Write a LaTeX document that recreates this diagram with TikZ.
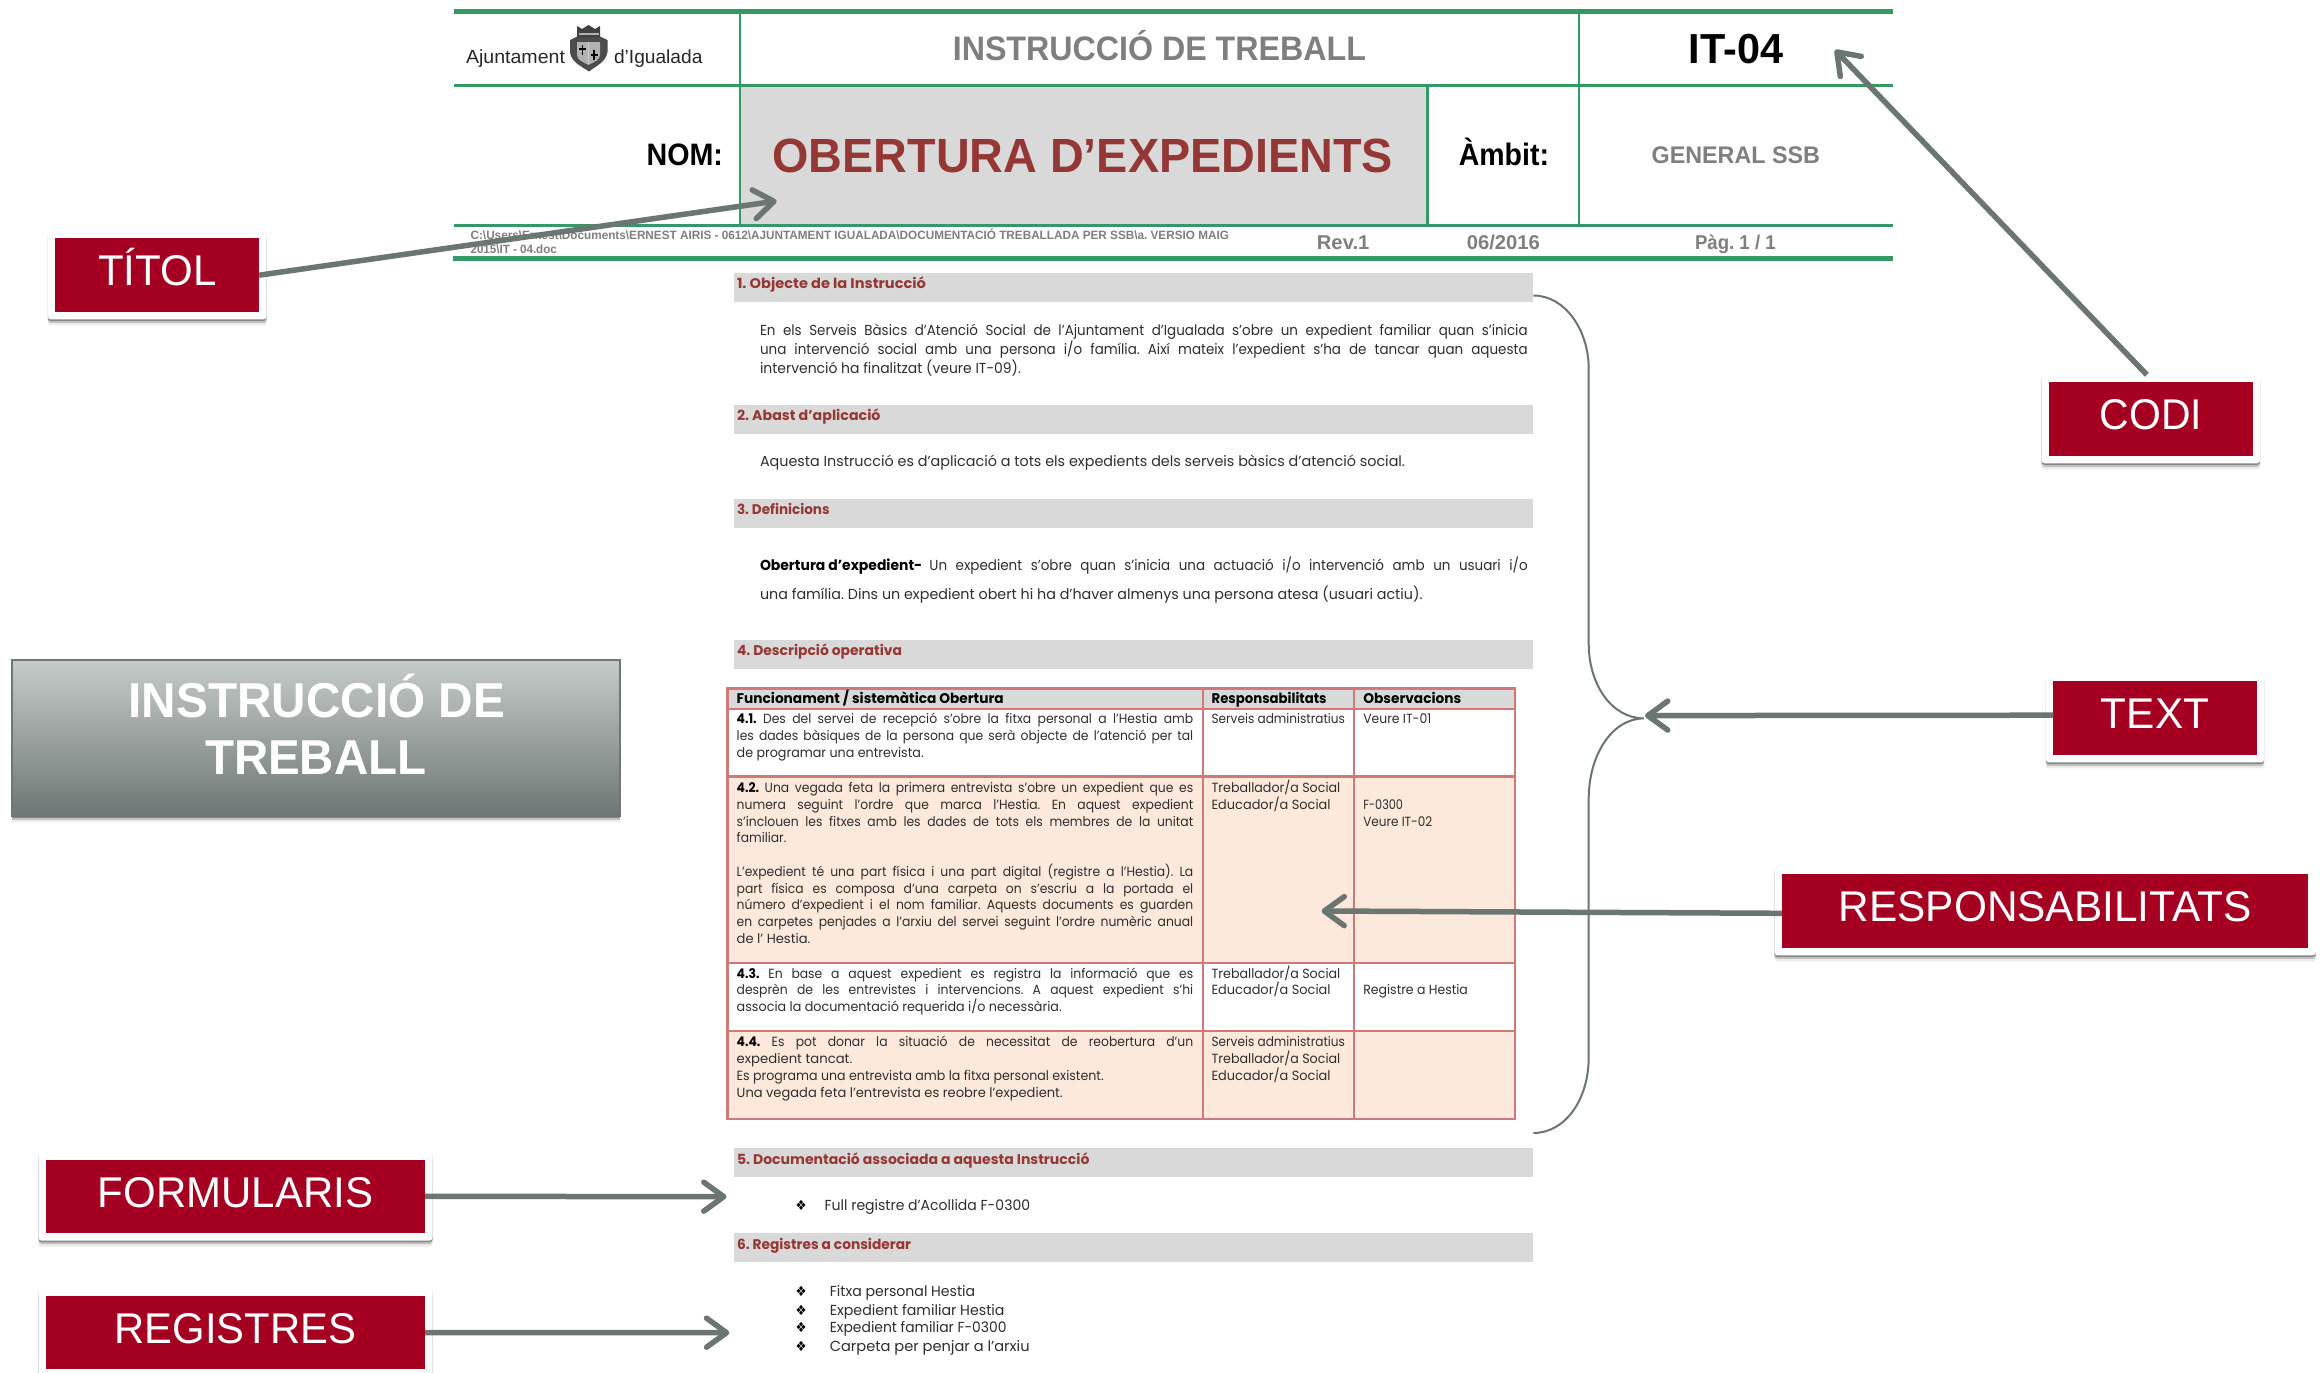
\documentclass[tikz,border=0pt]{standalone}
\usepackage{fontspec}
\usepackage{graphicx}
\usetikzlibrary{arrows.meta,shadows}
\setmainfont{Liberation Sans}
\newfontfamily\gothic{Poppins}
\newfontfamily\symf{DejaVu Sans}
\definecolor{hgreen}{HTML}{339966}
\definecolor{barg}{HTML}{D9D9D9}
\definecolor{sectc}{HTML}{953735}
\definecolor{hgray}{HTML}{7F7F7F}
\definecolor{bodyc}{HTML}{2E2E2E}
\definecolor{tabl}{HTML}{CF7A78}
\definecolor{peach}{HTML}{FCE9DB}
\definecolor{cred}{HTML}{A50021}
\definecolor{connc}{HTML}{6B7571}
\definecolor{mtop}{HTML}{C5CBC8}
\definecolor{mmid}{HTML}{9EA5A3}
\definecolor{mbot}{HTML}{6E7775}
\frenchspacing
\newcommand\fitw[2]{\sbox0{#2}\pgfmathsetmacro\myfs{#1/\the\wd0}\scalebox{\myfs}[1]{\usebox0}}
% justified line: letters condensed to at most 0.93, the rest of the width goes to the word spaces
\newcommand\justw[2]{\sbox0{\spaceskip=.26em\relax #2}\pgfmathsetmacro\myfs{min(0.93,#1/\the\wd0)}\pgfmathsetlengthmacro\myw{#1/\myfs}\scalebox{\myfs}[1]{\hbox to \myw{\spaceskip=.26em plus 1fil\relax #2}}}
\newcounter{tn}
\newcommand\putt[5][]{\stepcounter{tn}\node[tx,#1] (t\arabic{tn}) at (#2,#3) {\fitw{#4}{#5}};}
\newcommand\puttj[5][]{\stepcounter{tn}\node[tx,#1] (t\arabic{tn}) at (#2,#3) {\justw{#4}{#5}};}
\newcommand\callout[6]{% name, cx, cy, W, labelW, label
  \node[outerbox,minimum width=#4+15pt] (#1Outer) at (#2,#3) {};
  \node[redbox,minimum width=#4 pt] (#1) at (#2,#3) {\fitw{#5}{#6}};}
\tikzset{
  x=1pt,y=-1pt,
  tx/.style={anchor=base west,inner sep=0pt,outer sep=0pt},
  hb/.style={font=\bfseries\fontsize{#1}{#1}\selectfont},
  hbg/.style={font=\bfseries\fontsize{#1}{#1}\selectfont,text=hgray},
  logotxt/.style={font=\fontsize{19}{19}\selectfont,text=black!85},
  bodytxt/.style={font=\gothic\fontsize{14.5}{16}\selectfont,text=bodyc},
  tabtxt/.style={font=\gothic\fontsize{13.3}{15}\selectfont,text=bodyc},
  listtxt/.style={font=\gothic\fontsize{14.5}{16}\selectfont,text=bodyc},
  secttxt/.style={font=\gothic\bfseries\fontsize{14}{16}\selectfont,text=sectc},
  headtxt/.style={font=\gothic\bfseries\fontsize{14}{16}\selectfont,text=black},
  bull/.style={font=\symf\fontsize{14}{14}\selectfont,text=black},
  softshadow/.style={
    drop shadow={shadow xshift=0pt,shadow yshift=-1.5pt,opacity=.30,fill=black},
    drop shadow={shadow xshift=0pt,shadow yshift=-3.5pt,opacity=.18,fill=black},
    drop shadow={shadow xshift=0pt,shadow yshift=-6pt,opacity=.08,fill=black}},
  outerbox/.style={fill=white,rounded corners=3pt,inner sep=0pt,outer sep=0pt,minimum height=88.5pt,softshadow},
  redbox/.style={fill=cred,inner sep=0pt,outer sep=0pt,text=white,text height=47.5pt,text depth=26pt,
    font=\fontsize{43}{43}\selectfont},
  mainbox/.style={inner sep=0pt,outer sep=0pt,minimum width=608pt,minimum height=156pt,
    top color=mtop,middle color=mmid,bottom color=mbot,draw=mbot,line width=1.5pt,softshadow},
  conn/.style={draw=connc,line width=5.5pt,-{Straight Barb[length=20pt,width=29pt,round]}},
  grn/.style={draw=hgreen,line width=2.5pt},
  grnb/.style={draw=hgreen,line width=4.5pt},
  tline/.style={draw=tabl,line width=2.5pt},
  bar/.style={fill=barg},
}
\begin{document}
\begin{tikzpicture}
\useasboundingbox (0,0) rectangle (2322,1373);
\fill[white] (0,0) rectangle (2322,1373);
% ---------- header
\fill[bar] (740,86) rectangle (1427.5,225.5);
\draw[grnb] (454,11.3) -- (1893,11.3);
\draw[grn] (454,85.7) -- (1893,85.7);
\draw[grn] (454,225.7) -- (1893,225.7);
\draw[grnb] (453,258.3) -- (1893,258.3);
\draw[grn] (740,11.3) -- (740,225.7);
\draw[grn] (1579,11.3) -- (1579,225.7);
\draw[grn] (1427.5,85.7) -- (1427.5,225.7);
% logo
\putt[logotxt]{466}{63.3}{99}{Ajuntament}
\putt[logotxt]{614}{63.3}{88.5}{d'Igualada}
\fill[black!70] (570,40) -- (578,36) -- (599,36) -- (607.5,40) -- (607.5,52) .. controls (606,62) and (596,66) .. (589,71.5) .. controls (581,66) and (571,62) .. (570,52) -- cycle;
\fill[black!75] (577,26) -- (582,29) -- (588.5,25) -- (595,29) -- (600,26) -- (600,37) -- (577,37) -- cycle;
\fill[black!30] (578.5,33) rectangle (598.5,35);
\fill[black!30] (577,42) -- (600,42) -- (600,55) .. controls (600,60) and (594,62) .. (588.5,65) .. controls (583,62) and (577,60) .. (577,55) -- cycle;
\draw[black,line width=1.4pt] (582.5,45) -- (582.5,55) (579,49) -- (586,49) (594,50) -- (594,60) (590.5,55) -- (597.5,55);
\draw[white!80!black,line width=1pt] (588.5,42) -- (588.5,64);
% title row
\putt[hbg=34]{952.8}{60.7}{413.2}{INSTRUCCIÓ DE TREBALL}
\putt[hb=42,text=black]{1688.7}{63.3}{94.3}{IT-04}
\putt[hb=31,text=black]{646.6}{165.7}{76.4}{NOM:}
\putt[hb=48,text=sectc]{772.6}{172.7}{620.4}{OBERTURA D’EXPEDIENTS}
\putt[hb=31,text=black]{1458.8}{165.7}{90.2}{Àmbit:}
\putt[hbg=24]{1651.6}{163.3}{168.4}{GENERAL SSB}
\putt[hbg=12]{470.6}{239.3}{758.4}{C:\textbackslash Users\textbackslash Ernest\textbackslash Documents\textbackslash ERNEST AIRIS - 0612\textbackslash AJUNTAMENT IGUALADA\textbackslash DOCUMENTACIÓ TREBALLADA PER SSB\textbackslash a. VERSIO MAIG}
\putt[hbg=12]{470.6}{253.3}{86.2}{2015\textbackslash IT - 04.doc}
\putt[hbg=20]{1316.8}{249}{52.7}{Rev.1}
\putt[hbg=20]{1466.8}{249}{73.2}{06/2016}
\putt[hbg=20]{1695}{249}{80.7}{Pàg. 1 / 1}
% ---------- section bars
\fill[bar] (734,273) rectangle (1532.7,301.7);
\fill[bar] (734,405) rectangle (1532.7,433.7);
\fill[bar] (734,499) rectangle (1532.7,528);
\fill[bar] (734,640) rectangle (1532.7,669);
\fill[bar] (734,1148) rectangle (1532.7,1176.7);
\fill[bar] (734,1233) rectangle (1532.7,1262);
\putt[secttxt]{737}{288}{189}{1. Objecte de la Instrucció}
\putt[secttxt]{737}{420}{143.5}{2. Abast d’aplicació}
\putt[secttxt]{737}{514}{92.7}{3. Definicions}
\putt[secttxt]{737}{655.7}{165}{4. Descripció operativa}
\putt[secttxt]{737}{1164}{352.5}{5. Documentació associada a aquesta Instrucció}
\putt[secttxt]{737}{1249}{174}{6. Registres a considerar}
% ---------- body
\puttj[bodytxt]{760}{335}{767.7}{En els Serveis Bàsics d’Atenció Social de l’Ajuntament d’Igualada s’obre un expedient familiar quan s’inicia}
\puttj[bodytxt]{760}{354.3}{767.7}{una intervenció social amb una persona i/o família. Així mateix l’expedient s’ha de tancar quan aquesta}
\putt[bodytxt]{760}{373.3}{261}{intervenció ha finalitzat (veure IT-09).}
\putt[bodytxt]{760}{466.7}{645}{Aquesta Instrucció es d’aplicació a tots els expedients dels serveis bàsics d’atenció social.}
\putt[bodytxt,text=black]{760}{570.7}{162.3}{\bfseries Obertura d’expedient-}
\puttj[bodytxt]{929.4}{570.7}{598.3}{Un expedient s’obre quan s’inicia una actuació i/o intervenció amb un usuari i/o}
\putt[bodytxt]{760}{599}{662.6}{una família. Dins un expedient obert hi ha d’haver almenys una persona atesa (usuari actiu).}
% ---------- table
\fill[bar] (727.3,688.3) rectangle (1515,709);
\fill[peach] (727.3,776.7) rectangle (1515,963);
\fill[peach] (727.3,1031) rectangle (1515,1119);
\draw[tline] (727.3,688.3) rectangle (1515,1119);
\draw[tline] (727.3,709) -- (1515,709);
\draw[tline] (727.3,776.7) -- (1515,776.7);
\draw[tline] (727.3,963) -- (1515,963);
\draw[tline] (727.3,1031) -- (1515,1031);
\draw[tline] (1203,688.3) -- (1203,1119);
\draw[tline] (1354,688.3) -- (1354,1119);
\putt[headtxt]{736.7}{703.3}{267}{Funcionament / sistemàtica Obertura}
\putt[headtxt]{1211.6}{703.3}{115}{Responsabilitats}
\putt[headtxt]{1363.3}{703.3}{98}{Observacions}
% row 1
\puttj[tabtxt]{736.7}{723.3}{456.6}{{\bfseries\color{black}4.1.} Des del servei de recepció s’obre la fitxa personal a l’Hestia amb}
\puttj[tabtxt]{736.7}{740}{456.6}{les dades bàsiques de la persona que serà objecte de l’atenció per tal}
\putt[tabtxt]{736.7}{757.3}{187}{de programar una entrevista.}
\putt[tabtxt]{1211.6}{723.3}{133.4}{Serveis administratius}
\putt[tabtxt]{1363.3}{723.3}{68}{Veure IT-01}
% row 2
\puttj[tabtxt]{736.7}{792.3}{456.6}{{\bfseries\color{black}4.2.} Una vegada feta la primera entrevista s’obre un expedient que es}
\puttj[tabtxt]{736.7}{809.3}{456.6}{numera seguint l’ordre que marca l’Hestia. En aquest expedient}
\puttj[tabtxt]{736.7}{826.3}{456.6}{s’inclouen les fitxes amb les dades de tots els membres de la unitat}
\putt[tabtxt]{736.7}{842.7}{49.7}{familiar.}
\puttj[tabtxt]{736.7}{876.3}{456.6}{L’expedient té una part física i una part digital (registre a l’Hestia). La}
\puttj[tabtxt]{736.7}{893.3}{456.6}{part física es composa d’una carpeta on s’escriu a la portada el}
\puttj[tabtxt]{736.7}{909.7}{456.6}{número d’expedient i el nom familiar. Aquests documents es guarden}
\puttj[tabtxt]{736.7}{926.7}{456.6}{en carpetes penjades a l’arxiu del servei seguint l’ordre numèric anual}
\putt[tabtxt]{736.7}{943.3}{73.7}{de l’ Hestia.}
\putt[tabtxt]{1211.6}{792.3}{128.7}{Treballador/a Social}
\putt[tabtxt]{1211.6}{809.3}{119}{Educador/a Social}
\putt[tabtxt]{1363.3}{809.3}{39.7}{F-0300}
\putt[tabtxt]{1363.3}{826.3}{69}{Veure IT-02}
% row 3
\puttj[tabtxt]{736.7}{978.3}{456.6}{{\bfseries\color{black}4.3.} En base a aquest expedient es registra la informació que es}
\puttj[tabtxt]{736.7}{994.3}{456.6}{desprèn de les entrevistes i intervencions. A aquest expedient s’hi}
\putt[tabtxt]{736.7}{1011.7}{325}{associa la documentació requerida i/o necessària.}
\putt[tabtxt]{1211.6}{978.3}{128.7}{Treballador/a Social}
\putt[tabtxt]{1211.6}{994.3}{119}{Educador/a Social}
\putt[tabtxt]{1363.3}{994.3}{104.6}{Registre a Hestia}
% row 4
\puttj[tabtxt]{736.7}{1046.3}{456.6}{{\bfseries\color{black}4.4.} Es pot donar la situació de necessitat de reobertura d’un}
\putt[tabtxt]{736.7}{1063.3}{115.6}{expedient tancat.}
\putt[tabtxt]{736.7}{1080.3}{367}{Es programa una entrevista amb la fitxa personal existent.}
\putt[tabtxt]{736.7}{1097.3}{326}{Una vegada feta l’entrevista es reobre l’expedient.}
\putt[tabtxt]{1211.6}{1046.3}{133.4}{Serveis administratius}
\putt[tabtxt]{1211.6}{1063.3}{128.7}{Treballador/a Social}
\putt[tabtxt]{1211.6}{1080.3}{119}{Educador/a Social}
% ---------- lists
\putt[bull]{795.5}{1210.7}{11}{❖}
\putt[listtxt]{824.6}{1210.7}{205.5}{Full registre d’Acollida F-0300}
\putt[bull]{795.5}{1296}{11}{❖}
\putt[bull]{795.5}{1315}{11}{❖}
\putt[bull]{795.5}{1332.7}{11}{❖}
\putt[bull]{795.5}{1351.7}{11}{❖}
\putt[listtxt]{829.8}{1296}{145.4}{Fitxa personal Hestia}
\putt[listtxt]{829.8}{1315}{174.7}{Expedient familiar Hestia}
\putt[listtxt]{829.8}{1332.7}{176.8}{Expedient familiar F-0300}
\putt[listtxt]{829.8}{1351.7}{199.8}{Carpeta per penjar a l’arxiu}
% ---------- grey title box
\node[mainbox] (main) at (316,738) {};
\putt[hb=49,text=white]{128.6}{717.3}{376.4}{INSTRUCCIÓ DE}
\putt[hb=49,text=white]{205}{774}{221.5}{TREBALL}
% ---------- callouts
\callout{titol}{157.2}{275.2}{203.7}{118.3}{TÍTOL}
\callout{codi}{2150.8}{419}{203.5}{102.3}{CODI}
\callout{textc}{2155}{718.2}{203.3}{108.2}{TEXT}
\callout{resp}{2045.1}{911}{526.7}{412.7}{RESPONSABILITATS}
\callout{form}{235.5}{1196.3}{379}{275.1}{FORMULARIS}
\callout{regs}{235.5}{1332.5}{379}{241.6}{REGISTRES}
% ---------- brace
\coordinate (braceTop) at (1533.3,295.5);
\coordinate (braceMid) at (1644,718.4);
\coordinate (braceBot) at (1533.3,1133);
\draw[connc,line width=2pt] (braceTop) .. controls (1565,295.5) and (1588.7,330) .. (1588.7,368.8)
  -- (1588.7,643.5) .. controls (1588.7,685) and (1612,718.4) .. (braceMid)
  .. controls (1612,718.4) and (1588.7,755) .. (1588.7,799)
  -- (1588.7,1057) .. controls (1588.7,1100) and (1565,1133) .. (braceBot);
% ---------- connectors
\coordinate (titolTip) at (776.7,201);
\coordinate (codiTip) at (1835,50);
\coordinate (textTip) at (1645,715.6);
\coordinate (respTip) at (1321.5,911);
\coordinate (formTip) at (726.5,1196.7);
\coordinate (regsTip) at (729.3,1332.7);
\draw[conn] (titol.east) -- (titolTip);
\draw[conn] ([xshift=-4pt]codiOuter.north) -- (codiTip);
\draw[conn] ([yshift=3pt]textc.west) -- (textTip);
\draw[conn] ([yshift=-2.3pt]resp.west) -- (respTip);
\draw[conn] (form.east) -- (formTip);
\draw[conn] (regs.east) -- (regsTip);
\end{tikzpicture}
\end{document}
